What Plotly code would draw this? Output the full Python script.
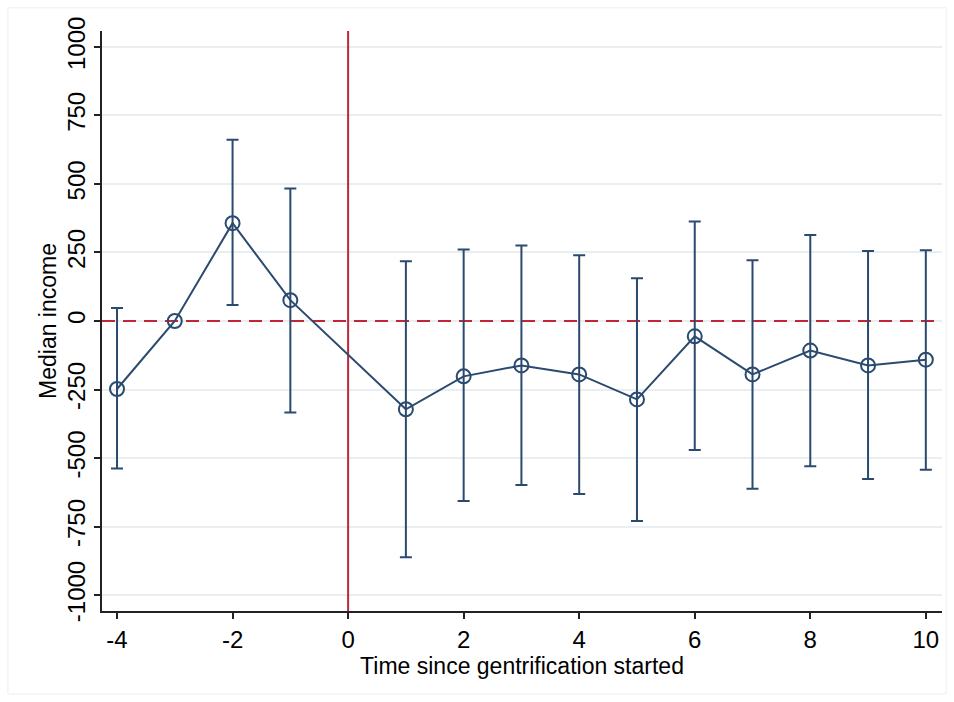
import plotly.graph_objects as go

periods = [-4, -3, -2, -1, 1, 2, 3, 4, 5, 6, 7, 8, 9, 10]
estimates = [-248, 0, 357, 76, -322, -202, -162, -195, -286, -56, -195, -108, -162, -141]
ci_upper = [47, None, 661, 483, 218, 261, 275, 240, 156, 363, 222, 314, 255, 258]
ci_lower = [-538, None, 58, -334, -862, -657, -598, -631, -730, -471, -612, -530, -576, -543]

x_ticks = [-4, -2, 0, 2, 4, 6, 8, 10]
y_ticks = [-1000, -750, -500, -250, 0, 250, 500, 750, 1000]

x_range = [-4.26, 10.28]
y_range = [-1058, 1058]

navy = "#2a4a6f"
red = "#c0263a"

err_plus = [(u - e) if u is not None else 0 for u, e in zip(ci_upper, estimates)]
err_minus = [(e - l) if l is not None else 0 for l, e in zip(ci_lower, estimates)]
vis = [u is not None for u in ci_upper]

fig = go.Figure()

fig.add_shape(type="line", xref="x", yref="y", x0=0, x1=0, y0=y_range[0], y1=y_range[1],
              line=dict(color=red, width=2), layer="between")
fig.add_shape(type="line", xref="x", yref="y", x0=x_range[0], x1=x_range[1], y0=0, y1=0,
              line=dict(color=red, width=2.2, dash="13px,8px"), layer="between")
# faint outer graph-region border
fig.add_shape(type="rect", xref="paper", yref="paper", x0=-0.112, x1=1.005, y0=-0.143, y1=1.04,
              line=dict(color="#eeeeee", width=1), layer="above")

fig.add_trace(go.Scatter(
    x=[p for p, v in zip(periods, vis) if v],
    y=[e for e, v in zip(estimates, vis) if v],
    mode="markers",
    marker=dict(size=1, color="rgba(0,0,0,0)"),
    error_y=dict(type="data", symmetric=False,
                 array=[a for a, v in zip(err_plus, vis) if v],
                 arrayminus=[a for a, v in zip(err_minus, vis) if v],
                 color=navy, thickness=2, width=6),
    showlegend=False, hoverinfo="skip",
))

fig.add_trace(go.Scatter(
    x=periods, y=estimates, mode="lines+markers",
    line=dict(color=navy, width=2),
    marker=dict(symbol="circle-open", size=14, color=navy, line=dict(width=2, color=navy)),
    showlegend=False,
))

font = "Liberation Sans, Arial, Helvetica, sans-serif"
fig.update_layout(
    width=954, height=702,
    margin=dict(l=102, r=12, t=31, b=91),
    paper_bgcolor="white", plot_bgcolor="white",
    font=dict(family=font, size=19, color="black"),
    xaxis=dict(range=x_range, tickvals=x_ticks, ticktext=[str(t) for t in x_ticks],
               showgrid=False, zeroline=False, showline=True, linecolor="#222222", linewidth=1.5,
               ticks="outside", ticklen=6, tickcolor="#222222", tickwidth=1.5,
               title=dict(text="Time since gentrification started", standoff=0),
               tickfont=dict(size=24)),
    yaxis=dict(range=y_range, tickvals=y_ticks, ticktext=[str(t) for t in y_ticks],
               tickangle=-90, showgrid=True, gridcolor="#e9eef2", gridwidth=1.5,
               zeroline=False, showline=True, linecolor="#222222", linewidth=1.5,
               ticks="outside", ticklen=6, tickcolor="#222222", tickwidth=1.5,
               title=dict(text="Median income", standoff=0),
               tickfont=dict(size=24)),
)

fig.write_html("out.html", config={"displayModeBar": False},
               post_script="document.body.style.margin='0px';")
